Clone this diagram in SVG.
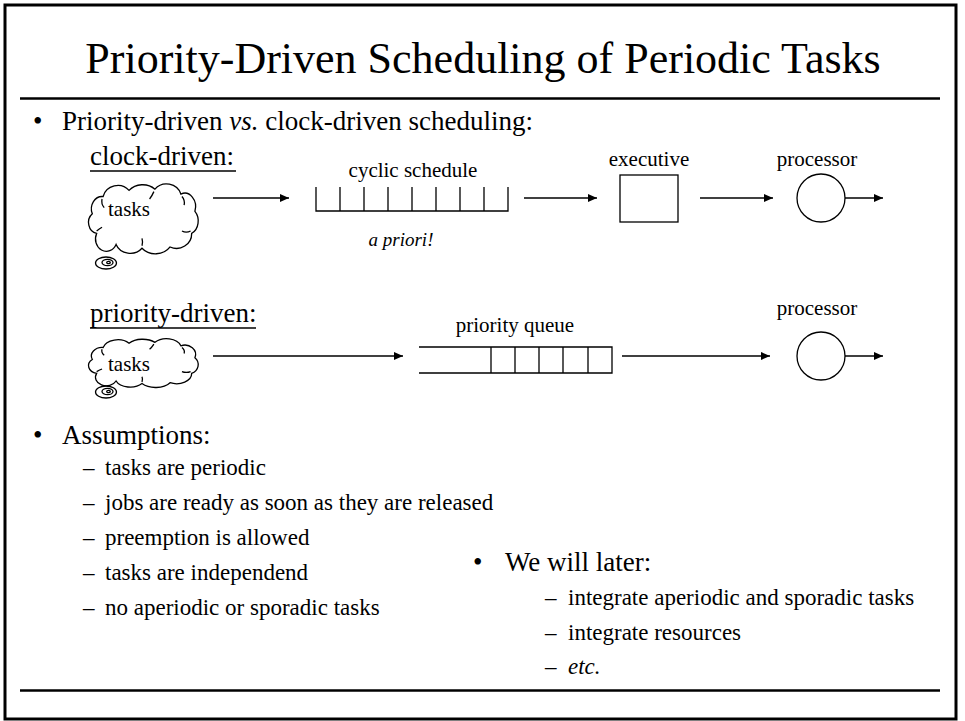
<svg xmlns="http://www.w3.org/2000/svg" xmlns:xlink="http://www.w3.org/1999/xlink" width="965" height="721" viewBox="0 0 965 721">
<style>
  text { font-family: "Liberation Serif", "Times New Roman", serif; fill: #000; }
  .title { font-size: 44px; }
  .main { font-size: 27px; }
  .sub { font-size: 23px; }
  .lbl { font-size: 21px; }
  .it { font-style: italic; }
  .rule { stroke: #000; stroke-width: 2.5; fill: none; }
  .shape { stroke: #000; stroke-width: 1.3; fill: none; }
  .cl { stroke: #000; stroke-width: 1.3; fill: none; vector-effect: non-scaling-stroke; }
  .conn { stroke: #000; stroke-width: 1.3; fill: none; marker-end: url(#ah); }
</style>
<defs>
  <marker id="ah" markerWidth="9" markerHeight="8" refX="9" refY="4" orient="auto" markerUnits="userSpaceOnUse">
    <path d="M0,0 L9,4 L0,8 Z" fill="#000"/>
  </marker>
  <g id="cloudShape">
    <path class="cl" d="M 4,22 A 10,10 0 0 1 14,8 A 14,12 0 0 1 38,3 A 16,12 0 0 1 62,2 A 14,12 0 0 1 86,6 A 10,11 0 0 1 99,20 A 10,11 0 0 1 96,38 A 14,12 0 0 1 76,49 A 16,12 0 0 1 50,50 A 14,11 0 0 1 26,47 A 10,10 0 0 1 8,38 A 9,9 0 0 1 4,22 Z"/>
    <path class="cl" d="M 13,10 Q 12,14 15,17 M 61,4 Q 59,8 57,10 M 87,8 Q 90,11 89,15 M 95,36 Q 91,38 87,36 M 50,48 Q 51,45 50,42 M 8,36 Q 11,34 13,33"/>
  </g>
  <g id="tail">
    <ellipse class="shape" cx="0" cy="0" rx="10.5" ry="6"/>
    <ellipse class="shape" cx="1.5" cy="-0.5" rx="5.5" ry="3.2"/>
    <ellipse class="shape" cx="2.5" cy="-0.5" rx="1.8" ry="1.2"/>
  </g>
</defs>

<g id="frame">
  <rect x="5" y="5" width="951" height="714" fill="#fff" stroke="#000" stroke-width="3"/>
  <line class="rule" x1="20" y1="98.5" x2="940" y2="98.5"/>
  <line class="rule" x1="20" y1="690.5" x2="940" y2="690.5" stroke-width="3"/>
</g>

<g id="title">
  <text class="title" x="483" y="73" text-anchor="middle">Priority-Driven Scheduling of Periodic Tasks</text>
</g>

<g id="bullet-intro">
  <text class="main" x="33" y="130">•</text>
  <text class="main" x="62" y="130">Priority-driven <tspan class="it">vs.</tspan> clock-driven scheduling:</text>
</g>

<g id="label-clock">
  <text class="main" x="90" y="165">clock-driven:</text>
  <line x1="90" y1="171" x2="236" y2="171" stroke="#000" stroke-width="1.6"/>
</g>

<g id="label-priority">
  <text class="main" x="90" y="322">priority-driven:</text>
  <line x1="90" y1="328" x2="256" y2="328" stroke="#000" stroke-width="1.6"/>
</g>

<g id="tasks-clock">
  <use xlink:href="#cloudShape" transform="translate(88,186.7) scale(1.08,1.23)"/>
  <use xlink:href="#tail" transform="translate(106,263)"/>
  <text class="lbl" x="129" y="216" text-anchor="middle">tasks</text>
</g>

<g id="cyclic-schedule">
  <text class="lbl" x="413" y="177" text-anchor="middle">cyclic schedule</text>
  <path class="shape" d="M316,187 V211 H508 V187 M340,187 V211 M364,187 V211 M388,187 V211 M412,187 V211 M436,187 V211 M460,187 V211 M484,187 V211"/>
  <text class="lbl it" x="401" y="246" text-anchor="middle" style="font-size:19px">a priori!</text>
</g>

<g id="executive">
  <text class="lbl" x="649" y="166" text-anchor="middle">executive</text>
  <rect class="shape" x="620" y="175" width="58" height="47"/>
</g>

<g id="processor-clock">
  <text class="lbl" x="817" y="166" text-anchor="middle">processor</text>
  <circle class="shape" cx="821" cy="198" r="24"/>
</g>

<g id="tasks-priority">
  <use xlink:href="#cloudShape" transform="translate(88,340.6) scale(1.08,0.86)"/>
  <use xlink:href="#tail" transform="translate(106,392)"/>
  <text class="lbl" x="129" y="371" text-anchor="middle">tasks</text>
</g>

<g id="priority-queue">
  <text class="lbl" x="515" y="332" text-anchor="middle">priority queue</text>
  <path class="shape" d="M419,347 H612 V373 H419 M491,347 V373 M515,347 V373 M539,347 V373 M563,347 V373 M588,347 V373"/>
</g>

<g id="processor-priority">
  <text class="lbl" x="817" y="315" text-anchor="middle">processor</text>
  <circle class="shape" cx="821" cy="356" r="24"/>
</g>

<g id="connectors">
  <line class="conn" x1="213" y1="198" x2="289" y2="198"/>
  <line class="conn" x1="524" y1="198" x2="597" y2="198"/>
  <line class="conn" x1="700" y1="198" x2="773" y2="198"/>
  <line class="conn" x1="845" y1="198" x2="883" y2="198"/>
  <line class="conn" x1="213" y1="356" x2="403" y2="356"/>
  <line class="conn" x1="622" y1="356" x2="770" y2="356"/>
  <line class="conn" x1="845" y1="356" x2="883" y2="356"/>
</g>

<g id="assumptions">
  <text class="main" x="33" y="444">•</text>
  <text class="main" x="62" y="444">Assumptions:</text>
  <text class="sub" x="83" y="475">–</text><text class="sub" x="105" y="475">tasks are periodic</text>
  <text class="sub" x="83" y="510">–</text><text class="sub" x="105" y="510">jobs are ready as soon as they are released</text>
  <text class="sub" x="83" y="545">–</text><text class="sub" x="105" y="545">preemption is allowed</text>
  <text class="sub" x="83" y="580">–</text><text class="sub" x="105" y="580">tasks are independend</text>
  <text class="sub" x="83" y="615">–</text><text class="sub" x="105" y="615">no aperiodic or sporadic tasks</text>
</g>

<g id="later">
  <text class="main" x="473" y="571">•</text>
  <text class="main" x="505" y="571">We will later:</text>
  <text class="sub" x="545" y="605">–</text><text class="sub" x="568" y="605">integrate aperiodic and sporadic tasks</text>
  <text class="sub" x="545" y="640">–</text><text class="sub" x="568" y="640">integrate resources</text>
  <text class="sub" x="545" y="674">–</text><text class="sub it" x="568" y="674">etc.</text>
</g>
</svg>
